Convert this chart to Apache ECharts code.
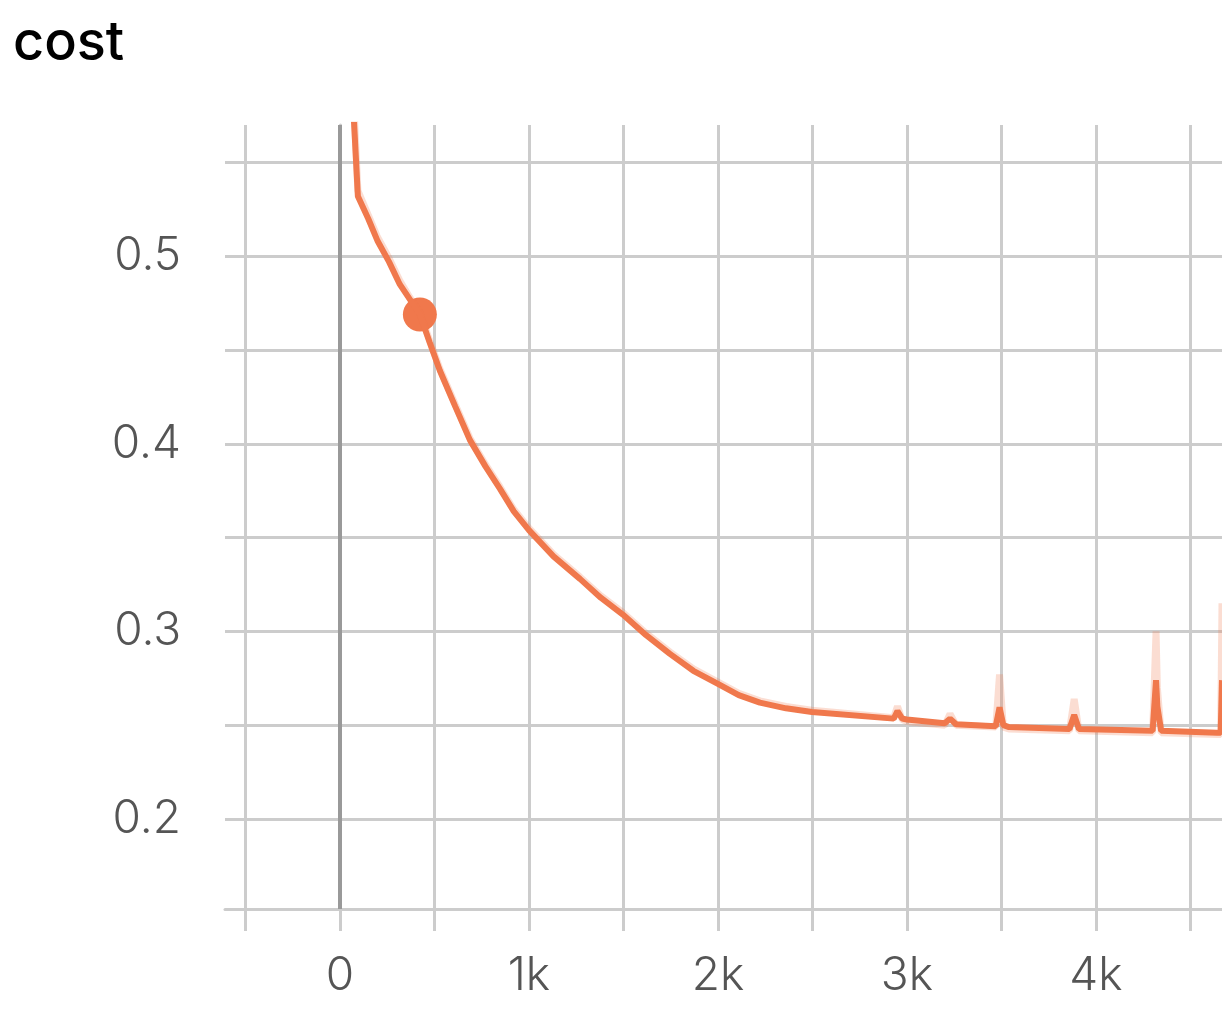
<!DOCTYPE html>
<html><head><meta charset="utf-8">
<script src="https://cdn.jsdelivr.net/npm/echarts@6/dist/echarts.min.js"></script>
<style>html,body{margin:0;background:#fff}#main{width:1222px;height:1026px}</style>
</head><body><div id="main"></div>
<script>
var steps    = [40, 60, 95, 150, 200, 260, 317, 370, 423, 475, 529, 610, 688, 770, 847, 920, 1000, 1130, 1270, 1380, 1497, 1620, 1746, 1870, 2000, 2110, 2222, 2360, 2497, 2930, 2950, 2975, 3000, 3200, 3228, 3260, 3470, 3490, 3510, 3540, 3860, 3885, 3910, 4300, 4318, 4325, 4345, 4640, 4660, 4667];
var smoothed = [0.64, 0.60, 0.532, 0.52, 0.508, 0.497, 0.485, 0.477, 0.469, 0.454, 0.439, 0.42, 0.402, 0.388, 0.376, 0.364, 0.354, 0.34, 0.328, 0.318, 0.309, 0.298, 0.288, 0.279, 0.272, 0.266, 0.262, 0.259, 0.257, 0.2535, 0.2575, 0.2535, 0.253, 0.251, 0.2535, 0.2505, 0.2495, 0.2595, 0.25, 0.249, 0.248, 0.2555, 0.248, 0.247, 0.274, 0.26, 0.247, 0.246, 0.246, 0.274];
var raw      = [0.65, 0.61, 0.535, 0.522, 0.51, 0.499, 0.487, 0.478, 0.47, 0.455, 0.44, 0.421, 0.403, 0.389, 0.377, 0.365, 0.355, 0.341, 0.329, 0.319, 0.31, 0.299, 0.289, 0.28, 0.273, 0.267, 0.263, 0.26, 0.258, 0.254, 0.26, 0.253, 0.252, 0.25, 0.256, 0.25, 0.249, 0.277, 0.249, 0.248, 0.247, 0.264, 0.247, 0.246, 0.30, 0.27, 0.246, 0.245, 0.245, 0.315];
var xTicks = [-500, 0, 500, 1000, 1500, 2000, 2500, 3000, 3500, 4000, 4500];
var xLabels = [0, 1000, 2000, 3000, 4000];
var yTicks = [0.2, 0.25, 0.3, 0.35, 0.4, 0.45, 0.5, 0.55];
var yLabels = [0.2, 0.3, 0.4, 0.5];
var marker = [423, 0.469];

var col = '#f0784c';
var grey = '#cccccc';
function zip(a, b) { return a.map(function (v, i) { return [v, b[i]]; }); }
var myChart = echarts.init(document.getElementById('main'));
var option = {
    animation: false,
    title: { text: 'cost', left: 8, top: 12, textStyle: { fontSize: 54, fontWeight: 500, color: '#000', fontFamily: 'Inter' } },
    grid: { left: 225, right: 0, top: 125, bottom: 117 },
    xAxis: {
        type: 'value', min: -608, max: 4667,
        axisLine: { show: true, onZero: false, lineStyle: { color: grey, width: 3 } },
        axisTick: { show: true, length: 22, customValues: xTicks, lineStyle: { color: grey, width: 3 } },
        splitLine: { show: true, lineStyle: { color: grey, width: 3 } },
        axisLabel: { customValues: xLabels, margin: 44, fontSize: 46, color: '#555', fontFamily: 'Inter', fontWeight: 300,
            formatter: function (v) { return v === 0 ? '0' : (v / 1000) + 'k'; } }
    },
    yAxis: {
        type: 'value', min: 0.152, max: 0.57,
        axisLine: { show: true, lineStyle: { color: grey, width: 3 } },
        axisTick: { show: true, length: 22, customValues: yTicks, lineStyle: { color: grey, width: 3 } },
        splitLine: { show: true, lineStyle: { color: grey, width: 3 } },
        axisLabel: { customValues: yLabels, margin: 44, fontSize: 46, color: '#555', fontFamily: 'Inter', fontWeight: 300,
            formatter: function (v) { return v.toFixed(1); } }
    },
    series: [
        { type: 'line', data: zip(steps, raw), showSymbol: false, clip: true,
          lineStyle: { color: 'rgba(240,120,76,0.25)', width: 7 } },
        { type: 'line', data: zip(steps, smoothed), showSymbol: false, clip: true,
          lineStyle: { color: col, width: 6 },
          markLine: { silent: true, symbol: 'none', label: { show: false },
              lineStyle: { color: '#999', width: 4, type: 'solid' }, data: [{ xAxis: 0 }] } },
        { type: 'scatter', data: [marker], symbolSize: 34, itemStyle: { color: col, opacity: 1 } }
    ]
};
myChart.setOption(option);
</script></body></html>
